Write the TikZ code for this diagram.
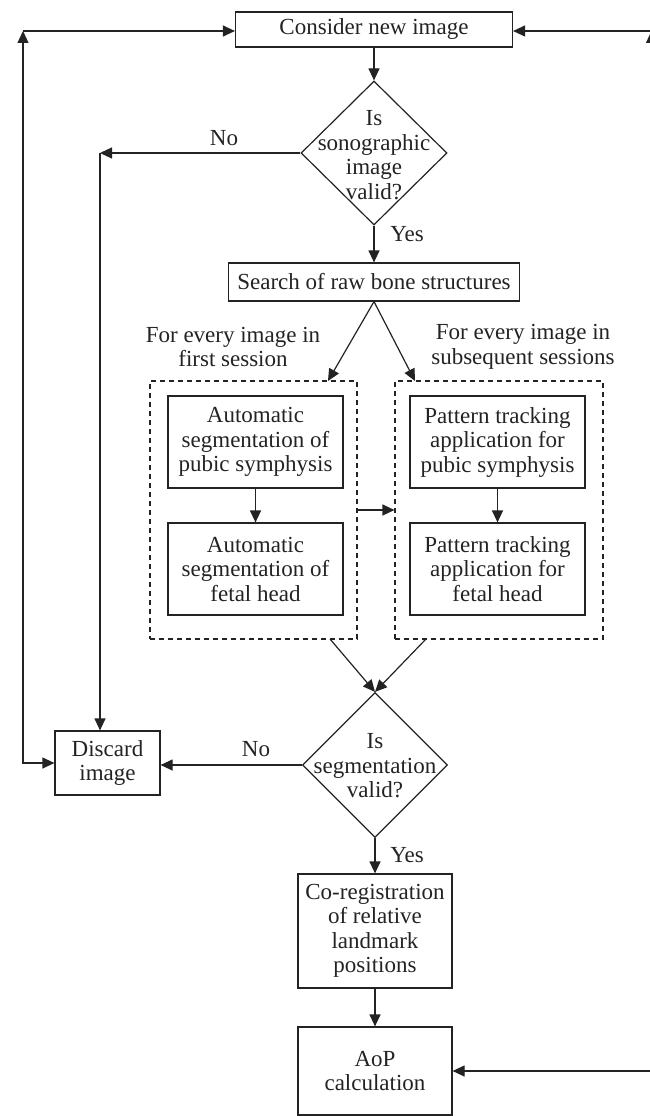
\documentclass[tikz,border=0pt]{standalone}
\usepackage{fontspec}
\setmainfont{Liberation Serif}
\usetikzlibrary{arrows.meta,shapes.geometric}
\definecolor{ink}{RGB}{35,35,35}
\begin{document}
\begin{tikzpicture}[x=1pt,y=-1pt,
  font=\fontsize{23}{24.5}\selectfont,
  every node/.style={text=ink},
  line/.style={draw=ink,line width=1.2pt},
  arr/.style={line,-{Triangle[length=12pt,width=11pt]}},
  darr/.style={line,{Triangle[length=12pt,width=11pt]}-{Triangle[length=12pt,width=11pt]}},
  box/.style={draw=ink,line width=1.2pt,rectangle,inner sep=0pt,align=center},
  dia/.style={draw=ink,line width=1.2pt,diamond,inner sep=0pt},
  group/.style={draw=ink,line width=1.1pt,dash pattern=on 5pt off 4pt,rectangle,inner sep=0pt},
  lbl/.style={align=center,inner sep=0pt}]
\useasboundingbox (0,0) rectangle (649,1116);

% boxes
\node[box,minimum width=277pt,minimum height=35pt] (consider) at (374,29.5) {Consider new image};
\node[dia,minimum width=146pt,minimum height=144pt] (d1) at (374,153) {};
\node[lbl] (d1t) at (374,155) {Is\\sonographic\\image\\valid?};
\node[box,minimum width=291pt,minimum height=38pt] (search) at (374,282) {Search of raw bone structures};

\node[group,minimum width=207pt,minimum height=258pt] (g1) at (253.5,510) {};
\node[group,minimum width=208pt,minimum height=258pt] (g2) at (499,510) {};

\node[box,minimum width=175pt,minimum height=92pt] (a1) at (255.5,442) {Automatic\\segmentation of\\pubic symphysis};
\node[box,minimum width=175pt,minimum height=92pt] (a2) at (255.5,569) {Automatic\\segmentation of\\fetal head};
\node[box,minimum width=175pt,minimum height=92pt] (p1) at (497.5,442) {Pattern tracking\\application for\\pubic symphysis};
\node[box,minimum width=175pt,minimum height=92pt] (p2) at (497.5,569) {Pattern tracking\\application for\\fetal head};

\node[dia,minimum width=145pt,minimum height=145pt] (d2) at (375,765) {};
\node[lbl] (d2t) at (375,766) {Is\\segmentation\\valid?};

\node[box,minimum width=105pt,minimum height=64pt] (discard) at (107.5,763) {Discard\\image};
\node[box,minimum width=154pt,minimum height=114pt] (coreg) at (375,931) {Co-registration\\of relative\\landmark\\positions};
\node[box,minimum width=154pt,minimum height=88pt] (aop) at (375,1071) {AoP\\calculation};

% labels
\node[lbl] (lno1) at (224,138) {No};
\node[lbl] (lyes1) at (407,234) {Yes};
\node[lbl] (lno2) at (256,749) {No};
\node[lbl] (lyes2) at (407,855) {Yes};
\node[lbl] (lfirst) at (233,347) {For every image in\\first session};
\node[lbl] (lsub) at (523,347) {For every image in\\subsequent sessions};

% helper coordinates
\coordinate (cl) at (23,31);
\coordinate (cr) at (651.5,31);
\coordinate (cn) at (100,153);
\coordinate (g1in) at (328,381);
\coordinate (g2in) at (415,381);
\coordinate (g1out) at (330,639);
\coordinate (g2out) at (426,639);

% connectors
\draw[arr] (consider.south) -- (d1.north);
\draw[arr] (d1.south) -- (search.north);
\draw[arr] (d1.west) -- (cn);
\draw[arr] (cn) -- (cn |- discard.north);
\draw[arr] (search.south) -- (g1in);
\draw[arr] (search.south) -- (g2in);
\draw[arr] (a1.south) -- (a2.north);
\draw[arr] (p1.south) -- (p2.north);
\draw[arr] (g1.east) -- (g2.west);
\draw[arr] (g1out) -- (d2.north);
\draw[arr] (g2out) -- (d2.north);
\draw[arr] (d2.west) -- (discard.east |- d2.west);
\draw[arr] (d2.south) -- (coreg.north);
\draw[arr] (coreg.south) -- (aop.north);
\draw[darr] (discard.west) -| (cl);
\draw[arr] (cl) -- (consider.west |- cl);
\draw[darr] (aop.east) -| (cr);
\draw[arr] (cr) -- (consider.east |- cr);
\end{tikzpicture}
\end{document}
